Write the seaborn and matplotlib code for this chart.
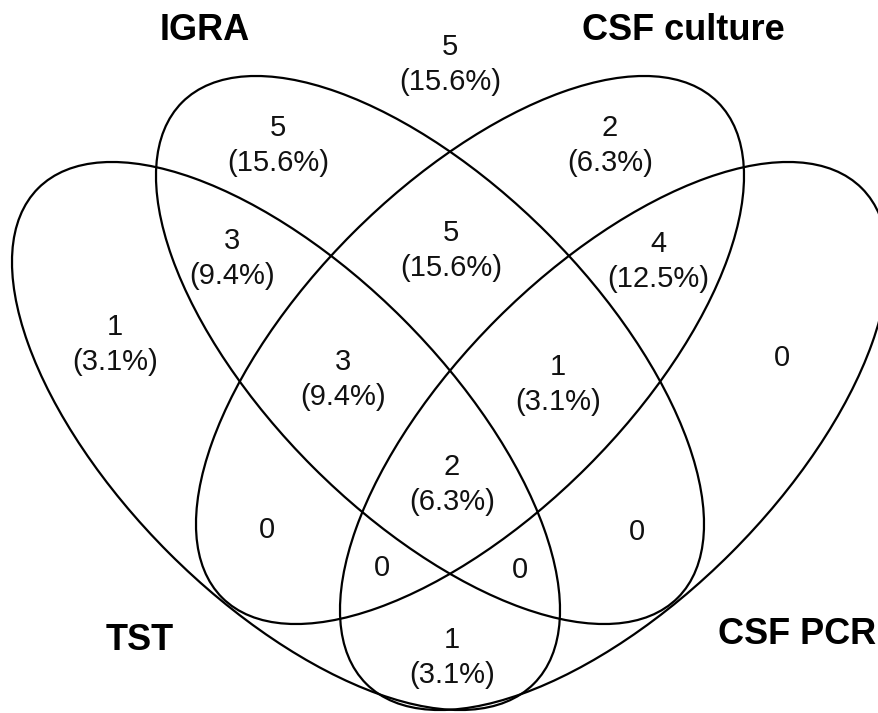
import matplotlib
matplotlib.use("Agg")
import matplotlib.pyplot as plt
from matplotlib.patches import Ellipse
import seaborn as sns

# ---------------- data ----------------
set_names = ["TST", "IGRA", "CSF culture", "CSF PCR"]

# region labels: count and percentage (None = no percentage shown)
region_ids = ["none", "IGRA", "CSF culture", "TST&IGRA", "IGRA&culture",
              "culture&PCR", "TST", "TST&IGRA&culture", "IGRA&culture&PCR",
              "PCR", "all", "TST&culture", "IGRA&PCR", "TST&culture&PCR",
              "TST&IGRA&PCR", "TST&PCR"]
region_counts = [5, 5, 2, 3, 5, 4, 1, 3, 1, 0, 2, 0, 0, 0, 0, 1]
region_pcts = [15.6, 15.6, 6.3, 9.4, 15.6, 12.5, 3.1, 9.4, 3.1,
               None, 6.3, None, None, None, None, 3.1]

# ---------------- layout (pixel coordinates) ----------------
W, H = 879, 713
region_xy = [(450, 47), (278, 128), (610, 128), (232, 241), (451, 233),
             (658, 244), (115, 327), (343, 362), (558, 367), (782, 358),
             (452, 467), (267, 530), (637, 532), (382, 568), (520, 570),
             (452, 640)]
line_gap = 35

ell_a, ell_b = 350.4, 165.5
ell_centers = [(286, 436), (430, 350), (470, 350), (614, 436)]
ell_angles = [45, 45, -45, -45]

title_xy = [(140, 640), (205, 31), (683, 31), (797, 634)]

sns.set_style("white")
plt.rcParams["font.family"] = ["Liberation Sans", "DejaVu Sans"]

fig = plt.figure(figsize=(W / 100, H / 100), dpi=100)
ax = fig.add_axes([0, 0, 1, 1])
ax.set_xlim(0, W)
ax.set_ylim(H, 0)
ax.axis("off")

for (cx, cy), ang in zip(ell_centers, ell_angles):
    ax.add_patch(Ellipse((cx, cy), width=2 * ell_a, height=2 * ell_b,
                         angle=ang, fill=False, edgecolor="black", lw=1.6))

for (x, y), c, p in zip(region_xy, region_counts, region_pcts):
    ax.text(x, y, str(c), ha="center", va="center", fontsize=21, color="#111111")
    if p is not None:
        ax.text(x, y + line_gap, f"({p:.1f}%)", ha="center", va="center",
                fontsize=21, color="#111111")

for (x, y), name in zip(title_xy, set_names):
    ax.text(x, y, name, ha="center", va="center", fontsize=26,
            fontweight="bold", color="black")

fig.savefig("out.png", dpi=100, facecolor="white")
